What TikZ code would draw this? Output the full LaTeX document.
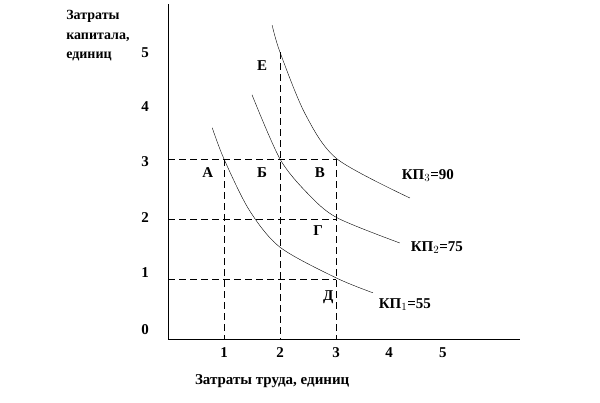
\documentclass[tikz,border=0pt]{standalone}
\usepackage{fontspec}
\setmainfont{Liberation Serif}
\usepackage{tikz}

\begin{document}
\begin{tikzpicture}[x=56pt,y=60pt,
        lbl/.style={font=\fontsize{15}{18}\selectfont\bfseries},
        grid line/.style={dash pattern=on 7pt off 4pt, line width=0.5pt}]
        \useasboundingbox (-3,-1.05) rectangle (7.714,5.65);
        \draw[line width=0.8pt] (0,5.58) -- (0,0) -- (6.29,0);
        % dashed guides
        \foreach \y in {1,2,3}
            \draw[grid line] (0,\y) -- (3,\y);
        \draw[grid line] (1,3) -- (1,0);
        \draw[grid line] (2,4.78) -- (2,0);
        \draw[grid line] (3,3) -- (3,0);
        % tick labels
        \foreach \x/\n in {1/1, 2/2, 3/3, 3.95/4, 4.91/5}
            \node[lbl] (tx\n) at (\x,-0.22) {\n};
        \foreach \y/\n in {0.15/0, 1.1/1, 2.02/2, 2.95/3, 3.88/4, 4.77/5}
            \node[lbl] (ty\n) at (-0.41,\y) {\n};
        % isoquants
        \draw[line width=0.4pt] plot[smooth] coordinates {(0.79,3.52) (1,3) (1.45,2.15) (2,1.53) (3,1.02) (3.66,0.77)};
        \draw[line width=0.4pt] plot[smooth] coordinates {(1.5,4.07) (2,3) (2.5,2.42) (3.02,2.02) (4.14,1.6)};
        \draw[line width=0.4pt] plot[smooth] coordinates {(1.86,5.23) (2,4.78) (2.45,3.75) (3.02,3) (4.32,2.35)};
        % points
        \node[lbl] (A) at (0.71,2.77) {А};
        \node[lbl] (B) at (1.68,2.77) {Б};
        \node[lbl] (V) at (2.71,2.77) {В};
        \node[lbl] (G) at (2.68,1.8) {Г};
        \node[lbl] (D) at (2.86,0.7) {Д};
        \node[lbl] (E) at (1.68,4.55) {Е};
        \node[lbl] (kp3) at (4.64,2.73) {КП$_3$=90};
        \node[lbl] (kp2) at (4.8,1.52) {КП$_2$=75};
        \node[lbl] (kp1) at (4.23,0.57) {КП$_1$=55};
        % axis titles
        \node[lbl] (xt) at (1.86,-0.7) {Затраты труда, единиц};
        \node[lbl, font=\fontsize{14}{19.5}\selectfont\bfseries, align=left, anchor=north west, inner sep=0pt]
            (yt) at (-1.82,5.48) {Затраты\\капитала,\\единиц};
    \end{tikzpicture}
\end{document}
